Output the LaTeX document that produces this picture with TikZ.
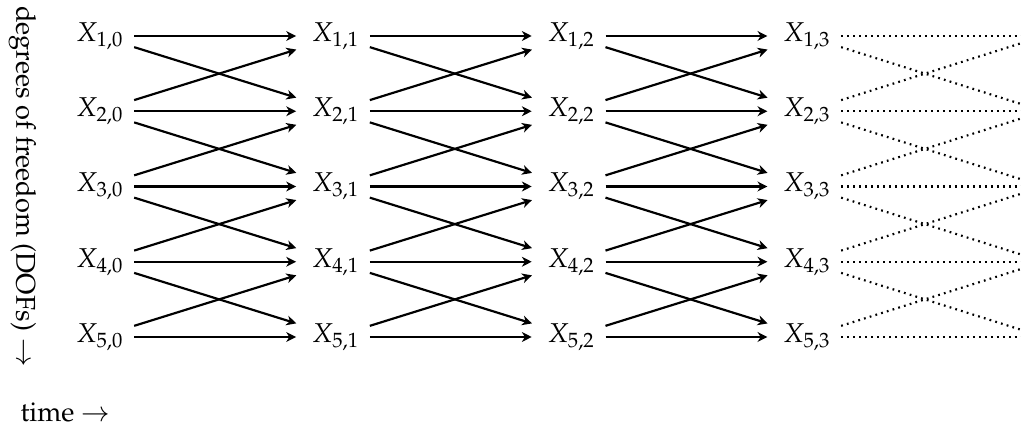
\documentclass[tikz,border=0pt]{standalone}
\usepackage[T1]{fontenc}
\usepackage{mathpazo}
\usetikzlibrary{arrows.meta}
\begin{document}
\begin{tikzpicture}[x=0.3676pt,y=-0.3676pt,
  var/.style={inner xsep=3.6pt,inner ysep=2pt},
  arr/.style={-{Stealth[length=3.6pt,width=3.6pt,inset=1.1pt]},line width=0.8pt,shorten >=2pt},
  dots/.style={line width=0.8pt,dash pattern=on 0.65pt off 1.55pt},
  lbl/.style={inner sep=0pt}]
\useasboundingbox (0,0) rectangle (1021,426);
% variable nodes
\foreach \i in {1,...,5}{
  \foreach \j in {0,...,3}{
    \node[var] (n\i\j) at ({100+235.67*\j},{36+75.25*(\i-1)}) {$X_{\i,\j}$};
  }
}
% solid arrows
\foreach \i in {1,...,5}{
  \foreach \j in {0,1,2}{
    \pgfmathtruncatemacro{\jn}{\j+1}
    \pgfmathtruncatemacro{\ip}{\i+1}
    \pgfmathtruncatemacro{\im}{\i-1}
    \draw[arr] (n\i\j.east) -- (n\i\jn.west);
    \ifnum\i<5
      \draw[arr] ([yshift=-4.1pt]n\i\j.east) -- ([yshift=4.4pt]n\ip\jn.west);
    \fi
    \ifnum\i>1
      \draw[arr] ([yshift=4.1pt]n\i\j.east) -- ([yshift=-4.4pt]n\im\jn.west);
    \fi
  }
}
% dotted continuations to the edge
\foreach \i in {1,...,5}{
  \coordinate (h\i) at (1021,{36+75.25*(\i-1)});
  \coordinate (d\i) at (1021,{36+75.25*(\i-1)+68});
  \coordinate (u\i) at (1021,{36+75.25*(\i-1)-68});
  \draw[dots] (n\i3.east) -- (h\i);
  \ifnum\i<5
    \draw[dots] ([yshift=-4.1pt]n\i3.east) -- (d\i);
  \fi
  \ifnum\i>1
    \draw[dots] ([yshift=4.1pt]n\i3.east) -- (u\i);
  \fi
}
% axis labels
\node[lbl,rotate=-90] (dof) at (22.5,186.5) {degrees of freedom (DOFs) $\rightarrow$};
\node[lbl,anchor=base west] (time) at (20,422) {time $\rightarrow$};
\end{tikzpicture}
\end{document}
